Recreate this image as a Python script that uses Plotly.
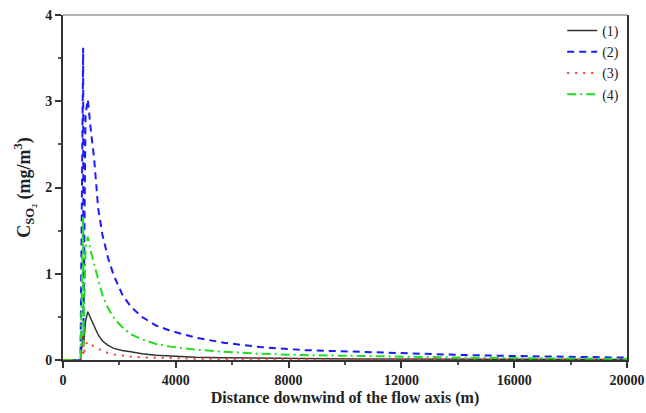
import plotly.graph_objects as go

distance = [0, 620, 715, 725, 800, 880, 1000, 1100, 1250, 1400, 1600, 1800, 2100, 2400,
            2800, 3300, 3800, 4700, 5700, 7000, 8500, 10500, 12500, 14000, 16000, 18000, 20000]

c1 = [0, 0, 0.29, 0.15, 0.45, 0.56, 0.47, 0.39, 0.29, 0.22, 0.17, 0.135, 0.11, 0.095,
      0.072, 0.055, 0.045, 0.032, 0.026, 0.02, 0.016, 0.013, 0.011, 0.01, 0.008, 0.007, 0.006]
c2 = [0, 0, 3.62, 0.3, 2.85, 3.02, 2.62, 2.35, 1.75, 1.45, 1.18, 0.98, 0.76, 0.62,
      0.50, 0.40, 0.34, 0.26, 0.20, 0.15, 0.115, 0.092, 0.072, 0.06, 0.046, 0.036, 0.028]
c3 = [0, 0, 0.27, 0.05, 0.18, 0.21, 0.18, 0.155, 0.13, 0.105, 0.08, 0.065, 0.05, 0.04,
      0.03, 0.024, 0.02, 0.015, 0.012, 0.009, 0.007, 0.006, 0.005, 0.004, 0.004, 0.003, 0.003]
c4 = [0, 0, 1.67, 0.15, 1.30, 1.43, 1.24, 1.12, 0.92, 0.75, 0.60, 0.49, 0.38, 0.30,
      0.24, 0.185, 0.155, 0.12, 0.095, 0.072, 0.057, 0.045, 0.035, 0.029, 0.022, 0.017, 0.013]

x_ticks = [0, 4000, 8000, 12000, 16000, 20000]
y_ticks = [0, 1, 2, 3, 4]

names = ["(1)", "(2)", "(3)", "(4)"]
series = [c1, c2, c3, c4]
colors = ["#333333", "#1a1aff", "#ff3333", "#22dd22"]
dashes = ["solid", "7px,5px", "2px,6px", "9px,4px,2px,4px"]
widths = [1.5, 2, 2, 2]

fig = go.Figure()
for n, s, c, d, w in zip(names, series, colors, dashes, widths):
    fig.add_trace(go.Scatter(x=distance, y=s, mode="lines", name=n,
                             line=dict(color=c, dash=d, width=w)))

font = "Liberation Serif, Times New Roman, serif"
fig.update_layout(
    width=646, height=413,
    margin=dict(l=63, r=19, t=15, b=53),
    plot_bgcolor="white", paper_bgcolor="white",
    font=dict(family=font, size=13, color="#222"),
    showlegend=True,
    legend=dict(x=0.995, y=1.0, xanchor="right", yanchor="top",
                bgcolor="rgba(0,0,0,0)", font=dict(size=14, family=font),
                tracegroupgap=0),
    xaxis=dict(range=[0, 20000], tickvals=x_ticks,
               ticktext=["<b>%d</b>" % v for v in x_ticks],
               ticks="outside", ticklen=6, tickwidth=1.5, tickcolor="#333",
               showline=True, linecolor="#333", linewidth=2, mirror=False,
               showgrid=False, zeroline=False, automargin=False,
               minor=dict(tickvals=[2000, 6000, 10000, 14000, 18000], ticks="outside", ticklen=3, tickcolor="#555"),
               tickfont=dict(size=14, family=font, color="#222"),
               title=dict(text="<b>Distance downwind of the flow axis (m)</b>",
                          font=dict(size=16, family=font), standoff=5)),
    yaxis=dict(range=[0, 4], tickvals=y_ticks,
               ticktext=["<b>%d</b>" % v for v in y_ticks],
               ticks="outside", ticklen=6, tickwidth=1.5, tickcolor="#333",
               showline=True, linecolor="#333", linewidth=2, mirror=True,
               showgrid=False, zeroline=False, automargin=False,
               minor=dict(tickvals=[0.5, 1.5, 2.5, 3.5], ticks="outside", ticklen=3, tickcolor="#555"),
               tickfont=dict(size=14, family=font, color="#222"),
               title=dict(text="<b>C<sub>SO₂</sub> (mg/m<sup>3</sup>)</b>",
                          font=dict(size=18, family=font), standoff=10)),
)
fig.add_shape(type="line", xref="paper", yref="paper", x0=0, x1=1, y0=1, y1=1,
              line=dict(color="#999999", width=1.5))
fig.write_html("out.html", config={"displayModeBar": False},
               post_script="document.body.style.margin='0';document.body.style.overflow='hidden';")
